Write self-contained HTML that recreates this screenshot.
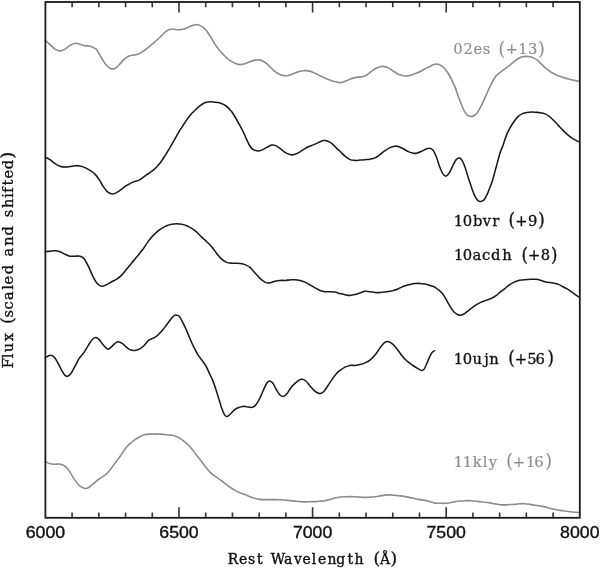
<!DOCTYPE html>
<html><head><meta charset="utf-8"><title>Spectra</title>
<style>html,body{margin:0;padding:0;background:#fff;width:600px;height:569px;overflow:hidden}svg{display:block}</style>
</head><body>
<svg width="600" height="569" viewBox="0 0 600 569">
<rect width="600" height="569" fill="#fff"/>
<g fill="none" stroke-linejoin="round" stroke-linecap="round">
<path d="M45.40 40.40 C46.17 41.10 48.40 43.15 50.00 44.60 C51.60 46.05 53.33 48.05 55.00 49.10 C56.67 50.15 58.33 50.90 60.00 50.90 C61.67 50.90 63.33 50.02 65.00 49.10 C66.67 48.18 68.33 46.38 70.00 45.40 C71.67 44.42 73.33 43.40 75.00 43.20 C76.67 43.00 78.33 43.78 80.00 44.20 C81.67 44.62 83.33 45.37 85.00 45.70 C86.67 46.03 88.33 45.75 90.00 46.20 C91.67 46.65 93.83 47.70 95.00 48.40 C96.17 49.10 96.17 49.23 97.00 50.40 C97.83 51.57 99.00 53.73 100.00 55.40 C101.00 57.07 102.00 58.83 103.00 60.40 C104.00 61.97 105.00 63.58 106.00 64.80 C107.00 66.02 108.17 67.05 109.00 67.70 C109.83 68.35 110.33 68.50 111.00 68.70 C111.67 68.90 112.33 68.95 113.00 68.90 C113.67 68.85 114.33 68.70 115.00 68.40 C115.67 68.10 116.17 67.85 117.00 67.10 C117.83 66.35 119.00 65.02 120.00 63.90 C121.00 62.78 122.00 61.42 123.00 60.40 C124.00 59.38 125.00 58.52 126.00 57.80 C127.00 57.08 128.00 56.53 129.00 56.10 C130.00 55.67 130.83 55.43 132.00 55.20 C133.17 54.97 134.83 54.95 136.00 54.70 C137.17 54.45 138.00 54.15 139.00 53.70 C140.00 53.25 141.00 52.62 142.00 52.00 C143.00 51.38 144.00 50.72 145.00 50.00 C146.00 49.28 147.00 48.50 148.00 47.70 C149.00 46.90 150.00 46.03 151.00 45.20 C152.00 44.37 153.00 43.57 154.00 42.70 C155.00 41.83 156.00 40.92 157.00 40.00 C158.00 39.08 159.00 38.17 160.00 37.20 C161.00 36.23 162.00 35.17 163.00 34.20 C164.00 33.23 165.00 32.15 166.00 31.40 C167.00 30.65 168.00 30.10 169.00 29.70 C170.00 29.30 171.00 29.05 172.00 29.00 C173.00 28.95 174.00 29.28 175.00 29.40 C176.00 29.52 177.00 29.67 178.00 29.70 C179.00 29.73 180.00 29.72 181.00 29.60 C182.00 29.48 182.90 29.33 184.00 29.00 C185.10 28.67 186.55 28.05 187.60 27.60 C188.65 27.15 189.42 26.68 190.30 26.30 C191.18 25.92 192.03 25.57 192.90 25.30 C193.77 25.03 194.62 24.78 195.50 24.70 C196.38 24.62 197.32 24.60 198.20 24.80 C199.08 25.00 199.92 25.43 200.80 25.90 C201.68 26.37 202.62 26.87 203.50 27.60 C204.38 28.33 205.23 29.23 206.10 30.30 C206.97 31.37 207.82 32.68 208.70 34.00 C209.58 35.32 210.52 36.77 211.40 38.20 C212.28 39.63 213.13 41.22 214.00 42.60 C214.87 43.98 215.72 45.27 216.60 46.50 C217.48 47.73 218.42 48.90 219.30 50.00 C220.18 51.10 221.03 52.15 221.90 53.10 C222.77 54.05 223.62 54.82 224.50 55.70 C225.38 56.58 226.32 57.62 227.20 58.40 C228.08 59.18 228.92 59.82 229.80 60.40 C230.68 60.98 231.63 61.43 232.50 61.90 C233.37 62.37 233.75 62.75 235.00 63.20 C236.25 63.65 238.33 64.52 240.00 64.60 C241.67 64.68 243.33 64.18 245.00 63.70 C246.67 63.22 248.33 62.30 250.00 61.70 C251.67 61.10 253.62 60.40 255.00 60.10 C256.38 59.80 256.92 59.72 258.30 59.90 C259.68 60.08 261.63 60.33 263.30 61.20 C264.97 62.07 266.63 63.62 268.30 65.10 C269.97 66.58 271.63 68.67 273.30 70.10 C274.97 71.53 276.63 72.82 278.30 73.70 C279.97 74.58 281.77 75.07 283.30 75.40 C284.83 75.73 285.83 75.98 287.50 75.70 C289.17 75.42 291.50 74.37 293.30 73.70 C295.10 73.03 296.63 72.20 298.30 71.70 C299.97 71.20 301.63 70.83 303.30 70.70 C304.97 70.57 306.63 70.62 308.30 70.90 C309.97 71.18 311.63 71.73 313.30 72.40 C314.97 73.07 316.63 74.07 318.30 74.90 C319.97 75.73 321.63 76.62 323.30 77.40 C324.97 78.18 326.63 78.97 328.30 79.60 C329.97 80.23 331.35 80.70 333.30 81.20 C335.25 81.70 338.05 82.60 340.00 82.60 C341.95 82.60 343.33 81.77 345.00 81.20 C346.67 80.63 348.33 79.80 350.00 79.20 C351.67 78.60 353.33 77.98 355.00 77.60 C356.67 77.22 358.33 77.18 360.00 76.90 C361.67 76.62 363.33 76.62 365.00 75.90 C366.67 75.18 368.33 73.80 370.00 72.60 C371.67 71.40 373.33 69.68 375.00 68.70 C376.67 67.72 378.62 67.08 380.00 66.70 C381.38 66.32 381.92 66.20 383.30 66.40 C384.68 66.60 386.63 67.10 388.30 67.90 C389.97 68.70 391.63 70.15 393.30 71.20 C394.97 72.25 396.63 73.45 398.30 74.20 C399.97 74.95 401.90 75.42 403.30 75.70 C404.70 75.98 405.30 76.03 406.70 75.90 C408.10 75.77 410.03 75.37 411.70 74.90 C413.37 74.43 415.03 73.80 416.70 73.10 C418.37 72.40 420.03 71.57 421.70 70.70 C423.37 69.83 425.32 68.60 426.70 67.90 C428.08 67.20 429.12 66.93 430.00 66.50 C430.88 66.07 431.33 65.63 432.00 65.30 C432.67 64.97 433.35 64.70 434.00 64.50 C434.65 64.30 435.25 64.13 435.90 64.10 C436.55 64.07 437.23 64.17 437.90 64.30 C438.57 64.43 439.23 64.60 439.90 64.90 C440.57 65.20 441.25 65.63 441.90 66.10 C442.55 66.57 443.15 67.05 443.80 67.70 C444.45 68.35 445.13 69.15 445.80 70.00 C446.47 70.85 447.13 71.80 447.80 72.80 C448.47 73.80 449.15 74.82 449.80 76.00 C450.45 77.18 451.05 78.52 451.70 79.90 C452.35 81.28 453.03 82.85 453.70 84.30 C454.37 85.75 454.98 86.70 455.70 88.60 C456.42 90.50 457.27 93.63 458.00 95.70 C458.73 97.77 459.40 99.23 460.10 101.00 C460.80 102.77 461.50 104.63 462.20 106.30 C462.90 107.97 463.60 109.68 464.30 111.00 C465.00 112.32 465.60 113.35 466.40 114.20 C467.20 115.05 468.22 115.72 469.10 116.10 C469.98 116.48 470.82 116.60 471.70 116.50 C472.58 116.40 473.52 116.07 474.40 115.50 C475.28 114.93 476.13 114.20 477.00 113.10 C477.87 112.00 478.72 110.48 479.60 108.90 C480.48 107.32 481.42 105.45 482.30 103.60 C483.18 101.75 484.03 99.73 484.90 97.80 C485.77 95.87 486.62 93.93 487.50 92.00 C488.38 90.07 489.32 88.03 490.20 86.20 C491.08 84.37 491.93 82.57 492.80 81.00 C493.67 79.43 494.53 77.95 495.40 76.80 C496.27 75.65 497.15 74.87 498.00 74.10 C498.85 73.33 499.15 73.22 500.50 72.20 C501.85 71.18 504.52 69.18 506.10 68.00 C507.68 66.82 508.68 66.15 510.00 65.10 C511.32 64.05 512.67 62.75 514.00 61.70 C515.33 60.65 516.67 59.62 518.00 58.80 C519.33 57.98 520.67 57.20 522.00 56.80 C523.33 56.40 524.67 56.40 526.00 56.40 C527.33 56.40 528.67 56.52 530.00 56.80 C531.33 57.08 532.67 57.45 534.00 58.10 C535.33 58.75 536.67 59.60 538.00 60.70 C539.33 61.80 540.67 63.42 542.00 64.70 C543.33 65.98 544.67 67.28 546.00 68.40 C547.33 69.52 548.67 70.52 550.00 71.40 C551.33 72.28 552.67 72.98 554.00 73.70 C555.33 74.42 556.45 75.08 558.00 75.70 C559.55 76.32 561.52 76.83 563.30 77.40 C565.08 77.97 566.92 78.60 568.70 79.10 C570.48 79.60 572.23 80.02 574.00 80.40 C575.77 80.78 578.42 81.23 579.30 81.40" stroke="#8c8c8c" stroke-width="1.6"/>
<path d="M45.40 157.40 C46.17 157.77 48.40 158.55 50.00 159.60 C51.60 160.65 53.33 162.60 55.00 163.70 C56.67 164.80 58.33 165.63 60.00 166.20 C61.67 166.77 63.33 167.03 65.00 167.10 C66.67 167.17 68.33 166.83 70.00 166.60 C71.67 166.37 73.33 165.82 75.00 165.70 C76.67 165.58 78.33 165.58 80.00 165.90 C81.67 166.22 83.33 166.85 85.00 167.60 C86.67 168.35 88.33 169.32 90.00 170.40 C91.67 171.48 93.50 172.60 95.00 174.10 C96.50 175.60 97.67 177.40 99.00 179.40 C100.33 181.40 101.67 184.10 103.00 186.10 C104.33 188.10 105.83 190.20 107.00 191.40 C108.17 192.60 109.00 192.88 110.00 193.30 C111.00 193.72 112.00 193.97 113.00 193.90 C114.00 193.83 115.00 193.37 116.00 192.90 C117.00 192.43 117.83 191.90 119.00 191.10 C120.17 190.30 121.67 189.08 123.00 188.10 C124.33 187.12 125.67 186.03 127.00 185.20 C128.33 184.37 129.67 183.73 131.00 183.10 C132.33 182.47 133.50 181.98 135.00 181.40 C136.50 180.82 138.03 180.72 140.00 179.60 C141.97 178.48 145.15 175.87 146.80 174.70 C148.45 173.53 148.77 173.42 149.90 172.60 C151.03 171.78 152.37 170.85 153.60 169.80 C154.83 168.75 156.07 167.63 157.30 166.30 C158.53 164.97 159.77 163.48 161.00 161.80 C162.23 160.12 163.47 158.15 164.70 156.20 C165.93 154.25 167.17 152.15 168.40 150.10 C169.63 148.05 170.87 146.02 172.10 143.90 C173.33 141.78 174.58 139.55 175.80 137.40 C177.02 135.25 178.20 132.98 179.40 131.00 C180.60 129.02 181.98 127.03 183.00 125.50 C184.02 123.97 184.67 123.05 185.50 121.80 C186.33 120.55 187.17 119.15 188.00 118.00 C188.83 116.85 189.67 115.87 190.50 114.90 C191.33 113.93 192.17 113.07 193.00 112.20 C193.83 111.33 194.67 110.50 195.50 109.70 C196.33 108.90 197.17 108.13 198.00 107.40 C198.83 106.67 199.67 105.92 200.50 105.30 C201.33 104.68 202.17 104.15 203.00 103.70 C203.83 103.25 204.67 102.88 205.50 102.60 C206.33 102.32 207.17 102.13 208.00 102.00 C208.83 101.87 209.67 101.82 210.50 101.80 C211.33 101.78 212.17 101.83 213.00 101.90 C213.83 101.97 214.67 102.08 215.50 102.20 C216.33 102.32 217.17 102.43 218.00 102.60 C218.83 102.77 219.67 102.95 220.50 103.20 C221.33 103.45 222.17 103.72 223.00 104.10 C223.83 104.48 224.67 104.92 225.50 105.50 C226.33 106.08 227.17 106.78 228.00 107.60 C228.83 108.42 229.67 109.42 230.50 110.40 C231.33 111.38 231.42 110.95 233.00 113.50 C234.58 116.05 238.28 122.60 240.00 125.70 C241.72 128.80 242.18 129.78 243.30 132.10 C244.42 134.42 245.58 137.25 246.70 139.60 C247.82 141.95 248.90 144.53 250.00 146.20 C251.10 147.87 252.05 148.82 253.30 149.60 C254.55 150.38 256.10 150.82 257.50 150.90 C258.90 150.98 260.17 150.68 261.70 150.10 C263.23 149.52 265.03 148.23 266.70 147.40 C268.37 146.57 270.32 145.43 271.70 145.10 C273.08 144.77 273.62 144.85 275.00 145.40 C276.38 145.95 278.33 147.23 280.00 148.40 C281.67 149.57 283.33 151.37 285.00 152.40 C286.67 153.43 288.62 154.22 290.00 154.60 C291.38 154.98 291.92 154.98 293.30 154.70 C294.68 154.42 296.63 153.73 298.30 152.90 C299.97 152.07 301.63 150.73 303.30 149.70 C304.97 148.67 306.63 147.50 308.30 146.70 C309.97 145.90 311.63 145.58 313.30 144.90 C314.97 144.22 316.63 143.32 318.30 142.60 C319.97 141.88 321.90 140.92 323.30 140.60 C324.70 140.28 325.30 140.23 326.70 140.70 C328.10 141.17 330.03 142.12 331.70 143.40 C333.37 144.68 335.32 147.10 336.70 148.40 C338.08 149.70 338.62 149.90 340.00 151.20 C341.38 152.50 343.33 154.80 345.00 156.20 C346.67 157.60 348.33 158.90 350.00 159.60 C351.67 160.30 353.33 160.32 355.00 160.40 C356.67 160.48 358.33 160.22 360.00 160.10 C361.67 159.98 363.33 159.85 365.00 159.70 C366.67 159.55 368.33 159.50 370.00 159.20 C371.67 158.90 373.33 158.67 375.00 157.90 C376.67 157.13 378.33 155.80 380.00 154.60 C381.67 153.40 383.33 151.87 385.00 150.70 C386.67 149.53 388.33 148.35 390.00 147.60 C391.67 146.85 393.62 146.40 395.00 146.20 C396.38 146.00 396.92 145.98 398.30 146.40 C399.68 146.82 401.63 147.83 403.30 148.70 C404.97 149.57 406.63 150.85 408.30 151.60 C409.97 152.35 411.90 152.93 413.30 153.20 C414.70 153.47 415.30 153.53 416.70 153.20 C418.10 152.87 420.03 151.95 421.70 151.20 C423.37 150.45 425.25 149.17 426.70 148.70 C428.15 148.23 429.32 148.12 430.40 148.40 C431.48 148.68 432.22 149.00 433.20 150.40 C434.18 151.80 435.25 154.17 436.30 156.80 C437.35 159.43 438.45 163.43 439.50 166.20 C440.55 168.97 441.55 171.75 442.60 173.40 C443.65 175.05 444.73 176.10 445.80 176.10 C446.87 176.10 447.82 175.17 449.00 173.40 C450.18 171.63 451.72 167.78 452.90 165.50 C454.08 163.22 455.10 160.97 456.10 159.70 C457.10 158.43 458.12 158.03 458.90 157.90 C459.68 157.77 460.17 158.30 460.80 158.90 C461.43 159.50 462.05 160.27 462.70 161.50 C463.35 162.73 464.05 164.53 464.70 166.30 C465.35 168.07 465.97 170.08 466.60 172.10 C467.23 174.12 467.85 176.38 468.50 178.40 C469.15 180.42 469.85 182.27 470.50 184.20 C471.15 186.13 471.77 188.23 472.40 190.00 C473.03 191.77 473.58 193.27 474.30 194.80 C475.02 196.33 475.82 198.10 476.70 199.20 C477.58 200.30 478.72 201.08 479.60 201.40 C480.48 201.72 481.18 201.47 482.00 201.10 C482.82 200.73 483.68 200.25 484.50 199.20 C485.32 198.15 486.18 196.25 486.90 194.80 C487.62 193.35 487.87 192.88 488.80 190.50 C489.73 188.12 491.23 184.55 492.50 180.50 C493.77 176.45 495.12 170.88 496.40 166.20 C497.68 161.52 499.10 155.87 500.20 152.40 C501.30 148.93 502.03 148.07 503.00 145.40 C503.97 142.73 505.00 139.02 506.00 136.40 C507.00 133.78 507.75 132.07 509.00 129.70 C510.25 127.33 512.00 124.38 513.50 122.20 C515.00 120.02 516.50 118.03 518.00 116.60 C519.50 115.17 521.00 114.30 522.50 113.60 C524.00 112.90 525.50 112.65 527.00 112.40 C528.50 112.15 530.00 112.12 531.50 112.10 C533.00 112.08 534.50 112.20 536.00 112.30 C537.50 112.40 539.00 112.43 540.50 112.70 C542.00 112.97 543.50 113.25 545.00 113.90 C546.50 114.55 548.00 115.47 549.50 116.60 C551.00 117.73 552.50 119.20 554.00 120.70 C555.50 122.20 557.00 123.98 558.50 125.60 C560.00 127.22 561.50 128.90 563.00 130.40 C564.50 131.90 566.00 133.30 567.50 134.60 C569.00 135.90 570.50 137.20 572.00 138.20 C573.50 139.20 575.30 140.02 576.50 140.60 C577.70 141.18 578.75 141.52 579.20 141.70" stroke="#1a1a1a" stroke-width="1.55"/>
<path d="M45.40 251.70 C46.17 251.62 48.40 251.37 50.00 251.20 C51.60 251.03 53.33 250.62 55.00 250.70 C56.67 250.78 58.33 251.12 60.00 251.70 C61.67 252.28 63.33 253.45 65.00 254.20 C66.67 254.95 68.33 255.87 70.00 256.20 C71.67 256.53 73.33 256.20 75.00 256.20 C76.67 256.20 78.47 255.78 80.00 256.20 C81.53 256.62 82.82 257.03 84.20 258.70 C85.58 260.37 86.92 263.42 88.30 266.20 C89.68 268.98 91.10 272.62 92.50 275.40 C93.90 278.18 95.17 281.10 96.70 282.90 C98.23 284.70 100.03 285.92 101.70 286.20 C103.37 286.48 105.03 285.35 106.70 284.60 C108.37 283.85 110.03 282.62 111.70 281.70 C113.37 280.78 115.03 280.20 116.70 279.10 C118.37 278.00 120.03 276.77 121.70 275.10 C123.37 273.43 125.03 271.13 126.70 269.10 C128.37 267.07 130.03 264.90 131.70 262.90 C133.37 260.90 135.32 258.77 136.70 257.10 C138.08 255.43 138.90 254.30 140.00 252.90 C141.10 251.50 142.05 250.45 143.30 248.70 C144.55 246.95 146.10 244.33 147.50 242.40 C148.90 240.47 150.17 238.82 151.70 237.10 C153.23 235.38 155.03 233.55 156.70 232.10 C158.37 230.65 160.03 229.47 161.70 228.40 C163.37 227.33 165.03 226.40 166.70 225.70 C168.37 225.00 170.03 224.53 171.70 224.20 C173.37 223.87 175.03 223.70 176.70 223.70 C178.37 223.70 180.03 223.87 181.70 224.20 C183.37 224.53 185.03 225.00 186.70 225.70 C188.37 226.40 190.03 227.33 191.70 228.40 C193.37 229.47 195.03 230.65 196.70 232.10 C198.37 233.55 200.03 235.50 201.70 237.10 C203.37 238.70 205.03 240.10 206.70 241.70 C208.37 243.30 210.03 244.75 211.70 246.70 C213.37 248.65 215.03 251.32 216.70 253.40 C218.37 255.48 220.03 257.70 221.70 259.20 C223.37 260.70 225.03 261.73 226.70 262.40 C228.37 263.07 230.03 263.07 231.70 263.20 C233.37 263.33 235.32 263.17 236.70 263.20 C238.08 263.23 238.62 263.17 240.00 263.40 C241.38 263.63 243.33 263.93 245.00 264.60 C246.67 265.27 248.33 266.02 250.00 267.40 C251.67 268.78 253.33 271.07 255.00 272.90 C256.67 274.73 258.33 276.87 260.00 278.40 C261.67 279.93 263.47 281.32 265.00 282.10 C266.53 282.88 267.53 283.25 269.20 283.10 C270.87 282.95 273.20 281.65 275.00 281.20 C276.80 280.75 278.33 280.53 280.00 280.40 C281.67 280.27 283.33 280.48 285.00 280.40 C286.67 280.32 288.33 280.02 290.00 279.90 C291.67 279.78 293.33 279.62 295.00 279.70 C296.67 279.78 298.33 280.00 300.00 280.40 C301.67 280.80 303.33 281.35 305.00 282.10 C306.67 282.85 308.33 283.93 310.00 284.90 C311.67 285.87 313.33 286.98 315.00 287.90 C316.67 288.82 318.33 289.77 320.00 290.40 C321.67 291.03 323.33 291.48 325.00 291.70 C326.67 291.92 328.33 291.63 330.00 291.70 C331.67 291.77 333.33 291.78 335.00 292.10 C336.67 292.42 338.33 293.17 340.00 293.60 C341.67 294.03 343.33 294.40 345.00 294.70 C346.67 295.00 348.33 295.42 350.00 295.40 C351.67 295.38 353.33 295.02 355.00 294.60 C356.67 294.18 358.33 293.47 360.00 292.90 C361.67 292.33 363.33 291.40 365.00 291.20 C366.67 291.00 368.33 291.50 370.00 291.70 C371.67 291.90 373.33 292.25 375.00 292.40 C376.67 292.55 378.33 292.65 380.00 292.60 C381.67 292.55 383.33 292.33 385.00 292.10 C386.67 291.87 388.33 291.53 390.00 291.20 C391.67 290.87 393.33 290.65 395.00 290.10 C396.67 289.55 398.33 288.63 400.00 287.90 C401.67 287.17 403.33 286.28 405.00 285.70 C406.67 285.12 408.33 284.75 410.00 284.40 C411.67 284.05 413.33 283.77 415.00 283.60 C416.67 283.43 418.33 283.32 420.00 283.40 C421.67 283.48 423.33 283.77 425.00 284.10 C426.67 284.43 428.50 284.95 430.00 285.40 C431.50 285.85 432.67 286.12 434.00 286.80 C435.33 287.48 436.67 288.45 438.00 289.50 C439.33 290.55 440.67 291.50 442.00 293.10 C443.33 294.70 444.67 296.88 446.00 299.10 C447.33 301.32 448.67 304.25 450.00 306.40 C451.33 308.55 452.67 310.62 454.00 312.00 C455.33 313.38 456.78 314.18 458.00 314.70 C459.22 315.22 460.08 315.37 461.30 315.10 C462.52 314.83 463.85 314.07 465.30 313.10 C466.75 312.13 468.33 310.60 470.00 309.30 C471.67 308.00 473.52 306.45 475.30 305.30 C477.08 304.15 478.92 303.22 480.70 302.40 C482.48 301.58 484.23 301.07 486.00 300.40 C487.77 299.73 489.52 299.28 491.30 298.40 C493.08 297.52 495.25 296.13 496.70 295.10 C498.15 294.07 498.70 293.23 500.00 292.20 C501.30 291.17 503.00 290.07 504.50 288.90 C506.00 287.73 507.50 286.28 509.00 285.20 C510.50 284.12 512.00 283.15 513.50 282.40 C515.00 281.65 516.50 281.12 518.00 280.70 C519.50 280.28 521.00 280.12 522.50 279.90 C524.00 279.68 525.50 279.52 527.00 279.40 C528.50 279.28 530.00 279.22 531.50 279.20 C533.00 279.18 534.50 279.13 536.00 279.30 C537.50 279.47 539.00 279.80 540.50 280.20 C542.00 280.60 543.50 281.30 545.00 281.70 C546.50 282.10 548.00 282.35 549.50 282.60 C551.00 282.85 552.50 282.90 554.00 283.20 C555.50 283.50 557.00 283.82 558.50 284.40 C560.00 284.98 561.50 285.90 563.00 286.70 C564.50 287.50 566.00 288.28 567.50 289.20 C569.00 290.12 570.50 291.17 572.00 292.20 C573.50 293.23 575.30 294.57 576.50 295.40 C577.70 296.23 578.75 296.90 579.20 297.20" stroke="#1a1a1a" stroke-width="1.55"/>
<path d="M45.40 357.40 C45.88 357.15 47.25 356.23 48.30 355.90 C49.35 355.57 50.58 355.07 51.70 355.40 C52.82 355.73 53.90 356.52 55.00 357.90 C56.10 359.28 57.18 361.62 58.30 363.70 C59.42 365.78 60.58 368.45 61.70 370.40 C62.82 372.35 64.03 374.43 65.00 375.40 C65.97 376.37 66.53 376.48 67.50 376.20 C68.47 375.92 69.55 375.37 70.80 373.70 C72.05 372.03 73.60 368.75 75.00 366.20 C76.40 363.65 77.67 360.75 79.20 358.40 C80.73 356.05 82.68 354.27 84.20 352.10 C85.72 349.93 86.92 347.55 88.30 345.40 C89.68 343.25 91.25 340.50 92.50 339.20 C93.75 337.90 94.68 337.53 95.80 337.60 C96.92 337.67 97.95 338.35 99.20 339.60 C100.45 340.85 101.92 343.52 103.30 345.10 C104.68 346.68 106.25 348.72 107.50 349.10 C108.75 349.48 109.55 348.35 110.80 347.40 C112.05 346.45 113.75 344.35 115.00 343.40 C116.25 342.45 117.05 341.65 118.30 341.70 C119.55 341.75 121.10 342.75 122.50 343.70 C123.90 344.65 125.32 346.33 126.70 347.40 C128.08 348.47 129.42 349.60 130.80 350.10 C132.18 350.60 133.47 350.60 135.00 350.40 C136.53 350.20 138.47 349.73 140.00 348.90 C141.53 348.07 142.82 346.77 144.20 345.40 C145.58 344.03 146.92 341.87 148.30 340.70 C149.68 339.53 151.10 339.15 152.50 338.40 C153.90 337.65 155.32 337.25 156.70 336.20 C158.08 335.15 159.42 333.62 160.80 332.10 C162.18 330.58 163.60 328.92 165.00 327.10 C166.40 325.28 167.82 323.02 169.20 321.20 C170.58 319.38 172.20 317.25 173.30 316.20 C174.40 315.15 174.82 314.90 175.80 314.90 C176.78 314.90 178.08 315.00 179.20 316.20 C180.32 317.40 181.40 320.02 182.50 322.10 C183.60 324.18 184.55 325.93 185.80 328.70 C187.05 331.47 188.60 335.50 190.00 338.70 C191.40 341.90 192.82 345.12 194.20 347.90 C195.58 350.68 196.90 353.20 198.30 355.40 C199.70 357.60 201.32 359.32 202.60 361.10 C203.88 362.88 204.88 364.10 206.00 366.10 C207.12 368.10 208.18 370.72 209.30 373.10 C210.42 375.48 211.58 377.63 212.70 380.40 C213.82 383.17 214.90 386.37 216.00 389.70 C217.10 393.03 218.30 397.17 219.30 400.40 C220.30 403.63 221.10 406.65 222.00 409.10 C222.90 411.55 223.82 413.88 224.70 415.10 C225.58 416.32 226.30 416.63 227.30 416.40 C228.30 416.17 229.47 414.82 230.70 413.70 C231.93 412.58 233.37 410.73 234.70 409.70 C236.03 408.67 237.37 408.05 238.70 407.50 C240.03 406.95 241.37 406.53 242.70 406.40 C244.03 406.27 245.27 406.52 246.70 406.70 C248.13 406.88 249.97 407.60 251.30 407.50 C252.63 407.40 253.58 407.07 254.70 406.10 C255.82 405.13 256.90 403.53 258.00 401.70 C259.10 399.87 260.18 397.53 261.30 395.10 C262.42 392.67 263.70 389.22 264.70 387.10 C265.70 384.98 266.50 383.42 267.30 382.40 C268.10 381.38 268.58 380.88 269.50 381.00 C270.42 381.12 271.67 381.68 272.80 383.10 C273.93 384.52 275.13 387.55 276.30 389.50 C277.47 391.45 278.62 393.63 279.80 394.80 C280.98 395.97 282.22 396.68 283.40 396.50 C284.58 396.32 285.62 395.22 286.90 393.70 C288.18 392.18 289.70 389.17 291.10 387.40 C292.50 385.63 293.90 384.35 295.30 383.10 C296.70 381.85 298.33 380.53 299.50 379.90 C300.67 379.27 301.23 379.12 302.30 379.30 C303.37 379.48 304.60 379.88 305.90 381.00 C307.20 382.12 308.70 384.40 310.10 386.00 C311.50 387.60 313.02 389.43 314.30 390.60 C315.58 391.77 316.75 392.53 317.80 393.00 C318.85 393.47 319.55 393.70 320.60 393.40 C321.65 393.10 322.92 392.43 324.10 391.20 C325.28 389.97 326.40 387.93 327.70 386.00 C329.00 384.07 330.50 381.60 331.90 379.60 C333.30 377.60 334.75 375.53 336.10 374.00 C337.45 372.47 338.52 371.55 340.00 370.40 C341.48 369.25 343.33 367.93 345.00 367.10 C346.67 366.27 348.33 365.68 350.00 365.40 C351.67 365.12 353.33 365.53 355.00 365.40 C356.67 365.27 358.33 365.02 360.00 364.60 C361.67 364.18 363.33 363.65 365.00 362.90 C366.67 362.15 368.33 361.40 370.00 360.10 C371.67 358.80 373.33 357.13 375.00 355.10 C376.67 353.07 378.47 349.93 380.00 347.90 C381.53 345.87 382.95 343.95 384.20 342.90 C385.45 341.85 386.25 341.52 387.50 341.60 C388.75 341.68 390.17 342.27 391.70 343.40 C393.23 344.53 395.03 346.40 396.70 348.40 C398.37 350.40 400.03 353.35 401.70 355.40 C403.37 357.45 405.03 359.17 406.70 360.70 C408.37 362.23 410.03 363.40 411.70 364.60 C413.37 365.80 415.03 366.93 416.70 367.90 C418.37 368.87 420.45 370.20 421.70 370.40 C422.95 370.60 423.37 370.22 424.20 369.10 C425.03 367.98 425.73 365.85 426.70 363.70 C427.67 361.55 429.03 358.13 430.00 356.20 C430.97 354.27 431.72 353.02 432.50 352.10 C433.28 351.18 434.33 350.93 434.70 350.70" stroke="#1a1a1a" stroke-width="1.55"/>
<path d="M45.40 461.70 C46.17 462.03 48.40 463.28 50.00 463.70 C51.60 464.12 53.33 464.13 55.00 464.20 C56.67 464.27 58.33 463.77 60.00 464.10 C61.67 464.43 63.33 464.87 65.00 466.20 C66.67 467.53 68.33 469.73 70.00 472.10 C71.67 474.47 73.33 478.05 75.00 480.40 C76.67 482.75 78.33 484.85 80.00 486.20 C81.67 487.55 83.63 488.25 85.00 488.50 C86.37 488.75 87.15 488.18 88.20 487.70 C89.25 487.22 90.25 486.40 91.30 485.60 C92.35 484.80 93.43 483.83 94.50 482.90 C95.57 481.97 96.65 480.83 97.70 480.00 C98.75 479.17 99.75 478.60 100.80 477.90 C101.85 477.20 102.93 476.58 104.00 475.80 C105.07 475.02 106.15 474.25 107.20 473.20 C108.25 472.15 109.25 470.82 110.30 469.50 C111.35 468.18 112.45 466.72 113.50 465.30 C114.55 463.88 115.55 462.42 116.60 461.00 C117.65 459.58 118.73 458.28 119.80 456.80 C120.87 455.32 122.05 453.50 123.00 452.10 C123.95 450.70 124.33 449.80 125.50 448.40 C126.67 447.00 128.42 445.17 130.00 443.70 C131.58 442.23 133.33 440.77 135.00 439.60 C136.67 438.43 138.33 437.53 140.00 436.70 C141.67 435.87 143.33 435.03 145.00 434.60 C146.67 434.17 148.33 434.18 150.00 434.10 C151.67 434.02 153.33 434.10 155.00 434.10 C156.67 434.10 158.33 434.02 160.00 434.10 C161.67 434.18 163.33 434.43 165.00 434.60 C166.67 434.77 168.33 434.88 170.00 435.10 C171.67 435.32 173.33 435.35 175.00 435.90 C176.67 436.45 178.33 437.37 180.00 438.40 C181.67 439.43 183.33 440.72 185.00 442.10 C186.67 443.48 188.33 444.90 190.00 446.70 C191.67 448.50 193.33 450.75 195.00 452.90 C196.67 455.05 198.33 457.38 200.00 459.60 C201.67 461.82 203.33 464.12 205.00 466.20 C206.67 468.28 208.33 470.43 210.00 472.10 C211.67 473.77 213.33 474.95 215.00 476.20 C216.67 477.45 218.33 478.40 220.00 479.60 C221.67 480.80 223.33 482.15 225.00 483.40 C226.67 484.65 228.33 485.93 230.00 487.10 C231.67 488.27 233.33 489.47 235.00 490.40 C236.67 491.33 238.33 492.00 240.00 492.70 C241.67 493.40 243.33 493.93 245.00 494.60 C246.67 495.27 248.33 496.07 250.00 496.70 C251.67 497.33 253.33 497.95 255.00 498.40 C256.67 498.85 258.33 499.20 260.00 499.40 C261.67 499.60 263.33 499.57 265.00 499.60 C266.67 499.63 268.33 499.60 270.00 499.60 C271.67 499.60 273.33 499.58 275.00 499.60 C276.67 499.62 278.33 499.62 280.00 499.70 C281.67 499.78 283.33 499.95 285.00 500.10 C286.67 500.25 288.33 500.43 290.00 500.60 C291.67 500.77 293.33 500.93 295.00 501.10 C296.67 501.27 298.33 501.47 300.00 501.60 C301.67 501.73 303.33 501.88 305.00 501.90 C306.67 501.92 308.33 501.75 310.00 501.70 C311.67 501.65 313.33 501.68 315.00 501.60 C316.67 501.52 318.33 501.35 320.00 501.20 C321.67 501.05 323.33 500.97 325.00 500.70 C326.67 500.43 328.33 500.07 330.00 499.60 C331.67 499.13 333.33 498.33 335.00 497.90 C336.67 497.47 338.33 497.20 340.00 497.00 C341.67 496.80 343.33 496.77 345.00 496.70 C346.67 496.63 348.33 496.60 350.00 496.60 C351.67 496.60 353.33 496.62 355.00 496.70 C356.67 496.78 358.33 496.98 360.00 497.10 C361.67 497.22 363.33 497.40 365.00 497.40 C366.67 497.40 368.33 497.22 370.00 497.10 C371.67 496.98 373.33 496.90 375.00 496.70 C376.67 496.50 378.33 496.17 380.00 495.90 C381.67 495.63 383.33 495.27 385.00 495.10 C386.67 494.93 388.33 494.85 390.00 494.90 C391.67 494.95 393.33 495.23 395.00 495.40 C396.67 495.57 398.33 495.70 400.00 495.90 C401.67 496.10 403.33 496.32 405.00 496.60 C406.67 496.88 408.33 497.25 410.00 497.60 C411.67 497.95 413.33 498.37 415.00 498.70 C416.67 499.03 418.33 499.32 420.00 499.60 C421.67 499.88 423.33 500.05 425.00 500.40 C426.67 500.75 428.33 501.25 430.00 501.70 C431.67 502.15 433.33 502.83 435.00 503.10 C436.67 503.37 438.33 503.27 440.00 503.30 C441.67 503.33 443.33 503.40 445.00 503.30 C446.67 503.20 448.33 502.97 450.00 502.70 C451.67 502.43 453.33 501.98 455.00 501.70 C456.67 501.42 458.33 501.17 460.00 501.00 C461.67 500.83 463.33 500.75 465.00 500.70 C466.67 500.65 468.33 500.65 470.00 500.70 C471.67 500.75 473.33 500.83 475.00 501.00 C476.67 501.17 478.33 501.50 480.00 501.70 C481.67 501.90 483.33 502.00 485.00 502.20 C486.67 502.40 488.33 502.62 490.00 502.90 C491.67 503.18 493.33 503.60 495.00 503.90 C496.67 504.20 498.33 504.53 500.00 504.70 C501.67 504.87 503.33 504.93 505.00 504.90 C506.67 504.87 508.33 504.58 510.00 504.50 C511.67 504.42 513.33 504.53 515.00 504.40 C516.67 504.27 518.33 503.80 520.00 503.70 C521.67 503.60 523.33 503.68 525.00 503.80 C526.67 503.92 528.33 504.17 530.00 504.40 C531.67 504.63 533.33 504.95 535.00 505.20 C536.67 505.45 538.33 505.62 540.00 505.90 C541.67 506.18 543.33 506.50 545.00 506.90 C546.67 507.30 548.33 507.87 550.00 508.30 C551.67 508.73 553.33 509.15 555.00 509.50 C556.67 509.85 558.33 510.15 560.00 510.40 C561.67 510.65 563.33 510.78 565.00 511.00 C566.67 511.22 568.33 511.50 570.00 511.70 C571.67 511.90 573.43 512.07 575.00 512.20 C576.57 512.33 578.67 512.45 579.40 512.50" stroke="#8c8c8c" stroke-width="1.6"/>
</g>
<path d="M72.12 2.00 V7.20 M72.12 517.80 V512.60 M98.84 2.00 V7.20 M98.84 517.80 V512.60 M125.56 2.00 V7.20 M125.56 517.80 V512.60 M152.28 2.00 V7.20 M152.28 517.80 V512.60 M179.00 2.00 V12.50 M179.00 517.80 V507.30 M205.72 2.00 V7.20 M205.72 517.80 V512.60 M232.44 2.00 V7.20 M232.44 517.80 V512.60 M259.16 2.00 V7.20 M259.16 517.80 V512.60 M285.88 2.00 V7.20 M285.88 517.80 V512.60 M312.60 2.00 V12.50 M312.60 517.80 V507.30 M339.32 2.00 V7.20 M339.32 517.80 V512.60 M366.04 2.00 V7.20 M366.04 517.80 V512.60 M392.76 2.00 V7.20 M392.76 517.80 V512.60 M419.48 2.00 V7.20 M419.48 517.80 V512.60 M446.20 2.00 V12.50 M446.20 517.80 V507.30 M472.92 2.00 V7.20 M472.92 517.80 V512.60 M499.64 2.00 V7.20 M499.64 517.80 V512.60 M526.36 2.00 V7.20 M526.36 517.80 V512.60 M553.08 2.00 V7.20 M553.08 517.80 V512.60" fill="none" stroke="#333" stroke-width="1.6"/>
<rect x="45.40" y="2.00" width="534.40" height="515.80" fill="none" stroke="#1a1a1a" stroke-width="1.8"/>
<text x="45.40" y="538.2" text-anchor="middle" font-family="Liberation Sans, sans-serif" font-size="15.9" textLength="39.4" stroke="#111" stroke-width="0.35" lengthAdjust="spacingAndGlyphs" fill="#111">6000</text>
<text x="179.00" y="538.2" text-anchor="middle" font-family="Liberation Sans, sans-serif" font-size="15.9" textLength="39.4" stroke="#111" stroke-width="0.35" lengthAdjust="spacingAndGlyphs" fill="#111">6500</text>
<text x="312.60" y="538.2" text-anchor="middle" font-family="Liberation Sans, sans-serif" font-size="15.9" textLength="39.4" stroke="#111" stroke-width="0.35" lengthAdjust="spacingAndGlyphs" fill="#111">7000</text>
<text x="446.20" y="538.2" text-anchor="middle" font-family="Liberation Sans, sans-serif" font-size="15.9" textLength="39.4" stroke="#111" stroke-width="0.35" lengthAdjust="spacingAndGlyphs" fill="#111">7500</text>
<text x="579.80" y="538.2" text-anchor="middle" font-family="Liberation Sans, sans-serif" font-size="15.9" textLength="39.4" stroke="#111" stroke-width="0.35" lengthAdjust="spacingAndGlyphs" fill="#111">8000</text>
<text transform="scale(1.050 1)" x="431.73 441.46 450.89 459.70 466.89 474.85 481.45 493.67 502.85 512.69" y="54.10 54.10 54.10 54.10 54.10 54.60 54.10 54.10 54.10 54.60" font-family="&quot;DejaVu Serif Condensed&quot;, &quot;Liberation Serif&quot;, serif" font-size="15.60" fill="#8c8c8c" stroke="#8c8c8c" stroke-width="0.15">02es <tspan font-size="17.60">(</tspan>+13<tspan font-size="17.60">)</tspan></text>
<text transform="scale(1.050 1)" x="432.05 440.77 450.42 459.88 468.77 475.48 484.37 490.79 502.90 512.60" y="226.00 226.00 226.00 226.00 226.00 226.00 226.50 226.00 226.00 226.50" font-family="&quot;DejaVu Serif Condensed&quot;, &quot;Liberation Serif&quot;, serif" font-size="15.60" fill="#111" stroke="#111" stroke-width="0.30">10bvr <tspan font-size="17.60">(</tspan>+9<tspan font-size="17.60">)</tspan></text>
<text transform="scale(1.050 1)" x="432.34 440.77 449.95 459.09 467.74 478.28 487.32 496.56 502.88 515.06 524.79" y="260.30 260.30 260.30 260.30 260.30 260.30 260.30 260.80 260.30 260.30 260.80" font-family="&quot;DejaVu Serif Condensed&quot;, &quot;Liberation Serif&quot;, serif" font-size="15.60" fill="#111" stroke="#111" stroke-width="0.30">10acdh <tspan font-size="17.60">(</tspan>+8<tspan font-size="17.60">)</tspan></text>
<text transform="scale(1.050 1)" x="432.05 440.77 450.02 461.28 466.08 475.13 483.99 490.31 502.05 509.98 521.36" y="363.80 363.80 363.80 363.80 363.80 363.80 364.30 363.80 363.80 363.80 364.30" font-family="&quot;DejaVu Serif Condensed&quot;, &quot;Liberation Serif&quot;, serif" font-size="15.60" fill="#111" stroke="#111" stroke-width="0.30">10ujn <tspan font-size="17.60">(</tspan>+56<tspan font-size="17.60">)</tspan></text>
<text transform="scale(1.050 1)" x="432.05 440.63 450.26 459.67 465.41 473.34 482.08 488.41 500.91 508.84 519.46" y="466.80 466.80 466.80 466.80 466.80 466.80 467.30 466.80 466.80 466.80 467.30" font-family="&quot;DejaVu Serif Condensed&quot;, &quot;Liberation Serif&quot;, serif" font-size="15.60" fill="#8c8c8c" stroke="#8c8c8c" stroke-width="0.15">11kly <tspan font-size="17.60">(</tspan>+16<tspan font-size="17.60">)</tspan></text>
<text transform="scale(1.080 1)" x="211.00 221.35 229.70 238.00 243.21 250.73 262.94 272.30 280.15 288.67 294.50 303.18 311.27 321.80 328.36 336.71 345.94 351.96 361.53" y="564.40" font-family="&quot;DejaVu Serif Condensed&quot;, &quot;Liberation Serif&quot;, serif" font-size="14.40" fill="#111" stroke="#111" stroke-width="0.35">Rest Wavelength <tspan font-size="17.50">(</tspan>Å<tspan font-size="17.50">)</tspan></text>
<g transform="translate(13 569) rotate(-90)"><text transform="scale(1.080 1)" x="185.87 195.07 200.72 210.82 218.43 226.96 232.98 240.36 248.98 258.68 263.50 273.04 281.67 289.35 299.30 308.69 317.32 325.76 334.30 343.68 348.33 355.20 361.47 370.26 380.14" y="0.00" font-family="&quot;DejaVu Serif Condensed&quot;, &quot;Liberation Serif&quot;, serif" font-size="15.00" fill="#111" stroke="#111" stroke-width="0.35">Flux <tspan font-size="17.50">(</tspan>scaled and shifted<tspan font-size="17.50">)</tspan></text></g>
</svg>
</body></html>
